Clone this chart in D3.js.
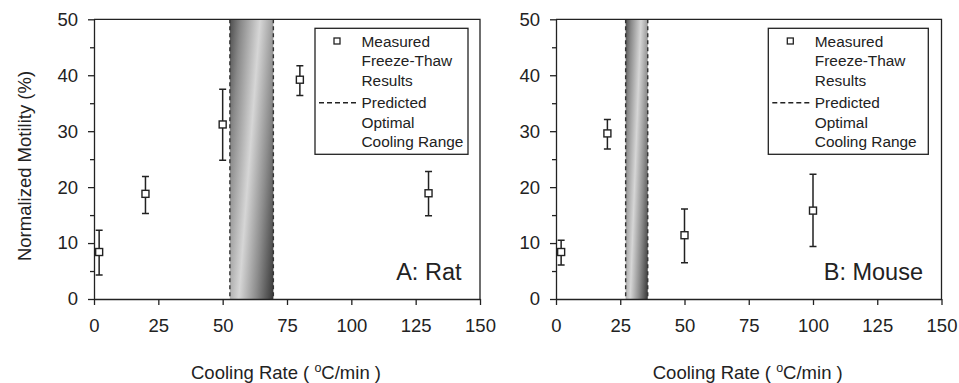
<!DOCTYPE html>
<html><head><meta charset="utf-8">
<script src="https://cdn.jsdelivr.net/npm/d3@7"></script>
<style>body{margin:0;background:#fff}svg{display:block;font-family:"Liberation Sans",Arial,sans-serif}</style>
</head><body>
<svg id="c" width="959" height="383"></svg>
<script>
// ---- data ----
const xTicks = [0, 25, 50, 75, 100, 125, 150];
const yTicks = [0, 10, 20, 30, 40, 50];
const yMinorTicks = [5, 15, 25, 35, 45];

const ratRate = [2, 20, 50, 80, 130];
const ratMotility = [8.4, 18.8, 31.2, 39.2, 18.9];
const ratLow = [4.3, 15.3, 24.8, 36.4, 14.9];
const ratHigh = [12.3, 21.9, 37.5, 41.7, 22.8];
const ratRange = [52.8, 69.7];

const mouseRate = [2, 20, 50, 100];
const mouseMotility = [8.4, 29.6, 11.4, 15.8];
const mouseLow = [6.1, 26.8, 6.5, 9.4];
const mouseHigh = [10.5, 32.1, 16.1, 22.3];
const mouseRange = [27.1, 35.7];

const legendMeasured = ["Measured", "Freeze-Thaw", "Results"];
const legendPredicted = ["Predicted", "Optimal", "Cooling Range"];
const xTitle = "Cooling Rate ( ";
const yTitle = "Normalized Motility (%)";

const svg = d3.select("#c");
const defs = svg.append("defs");
const grad = defs.append("linearGradient").attr("id", "band")
  .attr("x1", -0.18).attr("y1", 0.19).attr("x2", 1.08).attr("y2", 0.81);
grad.append("stop").attr("offset", 0).attr("stop-color", "#3a3a3a");
grad.append("stop").attr("offset", 0.22).attr("stop-color", "#8a8a8a");
grad.append("stop").attr("offset", 0.5).attr("stop-color", "#d6d6d6");
grad.append("stop").attr("offset", 0.75).attr("stop-color", "#8c8c8c");
grad.append("stop").attr("offset", 1).attr("stop-color", "#3a3a3a");

const ink = "#222";

function panel(o) {
  const x = d3.scaleLinear().domain([0, 150]).range([o.x0, o.x1]);
  const y = d3.scaleLinear().domain([0, 50]).range([299, 19.3]);
  const g = svg.append("g");

  // band
  g.append("rect").attr("x", x(o.range[0])).attr("y", y(50))
    .attr("width", x(o.range[1]) - x(o.range[0])).attr("height", y(0) - y(50))
    .attr("fill", "url(#band)");
  o.range.forEach(v => g.append("line").attr("x1", x(v)).attr("x2", x(v))
    .attr("y1", y(50)).attr("y2", y(0)).attr("stroke", "#333")
    .attr("stroke-width", 1.4).attr("stroke-dasharray", "4,3"));

  // frame
  g.append("path").attr("d", `M${x(0)},${y(50)}H${x(150)}V${y(0)}`)
    .attr("fill", "none").attr("stroke", ink).attr("stroke-width", 1.3);

  // axes
  const ax = g.append("g").attr("transform", `translate(0,${y(0)})`)
    .call(d3.axisBottom(x).tickValues(xTicks).tickSize(6).tickPadding(14).tickSizeOuter(0));
  ax.selectAll("text").attr("font-size", 18.5).attr("fill", ink);
  const ay = g.append("g").attr("transform", `translate(${x(0)},0)`)
    .call(d3.axisLeft(y).tickValues(yTicks).tickSize(6).tickPadding(10).tickSizeOuter(0));
  ay.selectAll("text").attr("font-size", 18.5).attr("fill", ink);
  g.append("g").attr("transform", `translate(${x(0)},0)`)
    .call(d3.axisLeft(y).tickValues(yMinorTicks).tickSize(4).tickFormat("").tickSizeOuter(0))
    .select(".domain").remove();
  [ax, ay].forEach(a => {
    a.select(".domain").attr("stroke", ink).attr("stroke-width", 1.3);
    a.attr("font-family", null);
  });
  g.selectAll(".tick line").attr("stroke", ink).attr("stroke-width", 1.3);

  // error bars & markers
  const pts = o.rate.map((r, i) => ({r, m: o.mot[i], lo: o.lo[i], hi: o.hi[i]}));
  const eb = g.append("g").attr("stroke", ink).attr("stroke-width", 1.5).attr("fill", "none");
  pts.forEach(p => {
    eb.append("path").attr("d",
      `M${x(p.r)},${y(p.lo)}V${y(p.hi)}M${x(p.r)-3.5},${y(p.hi)}h7M${x(p.r)-3.5},${y(p.lo)}h7`);
  });
  g.selectAll("rect.pt").data(pts).join("rect").attr("class", "pt")
    .attr("x", p => x(p.r) - 3.5).attr("y", p => y(p.m) - 3.5)
    .attr("width", 7).attr("height", 7)
    .attr("fill", "#fff").attr("stroke", ink).attr("stroke-width", 1.4);

  // legend
  const L = g.append("g");
  L.append("rect").attr("x", o.lx).attr("y", 28.3).attr("width", o.lw).attr("height", 126)
    .attr("fill", "#fff").attr("stroke", ink).attr("stroke-width", 1.3);
  L.append("rect").attr("x", o.lx + 22 - 3).attr("y", 41 - 3).attr("width", 6).attr("height", 6)
    .attr("fill", "#fff").attr("stroke", ink).attr("stroke-width", 1.3);
  L.append("line").attr("x1", o.lx + 4).attr("x2", o.lx + 41).attr("y1", 102.7).attr("y2", 102.7)
    .attr("stroke", ink).attr("stroke-width", 1.4).attr("stroke-dasharray", "5,3");
  const lbase = [46.5, 66, 85.5, 108.3, 127.7, 147];
  legendMeasured.concat(legendPredicted).forEach((t, i) =>
    L.append("text").attr("x", o.lx + 46.5).attr("y", lbase[i]).attr("font-size", 15.4)
      .attr("fill", ink).text(t));

  // panel label
  g.append("text").attr("x", o.labelX).attr("y", 280).attr("text-anchor", "end")
    .attr("font-size", 23.5).attr("fill", ink).text(o.label);

  // x title
  const xt = g.append("text").attr("x", (o.x0 + o.x1) / 2 - 1).attr("y", 379)
    .attr("text-anchor", "middle").attr("font-size", 18.5).attr("fill", ink);
  xt.append("tspan").text(xTitle);
  xt.append("tspan").attr("font-size", 12.5).attr("dy", -7).text("o");
  xt.append("tspan").attr("dy", 7).text("C/min )");
}

panel({x0: 94, x1: 480, rate: ratRate, mot: ratMotility, lo: ratLow, hi: ratHigh,
  range: ratRange, lx: 315, lw: 153, label: "A: Rat", labelX: 461.5});
panel({x0: 556, x1: 941.5, rate: mouseRate, mot: mouseMotility, lo: mouseLow, hi: mouseHigh,
  range: mouseRange, lx: 768.3, lw: 160, label: "B: Mouse", labelX: 923});

svg.append("text").attr("transform", "translate(31,166) rotate(-90)")
  .attr("text-anchor", "middle").attr("font-size", 18.5).attr("fill", ink).text(yTitle);
</script>
</body></html>
